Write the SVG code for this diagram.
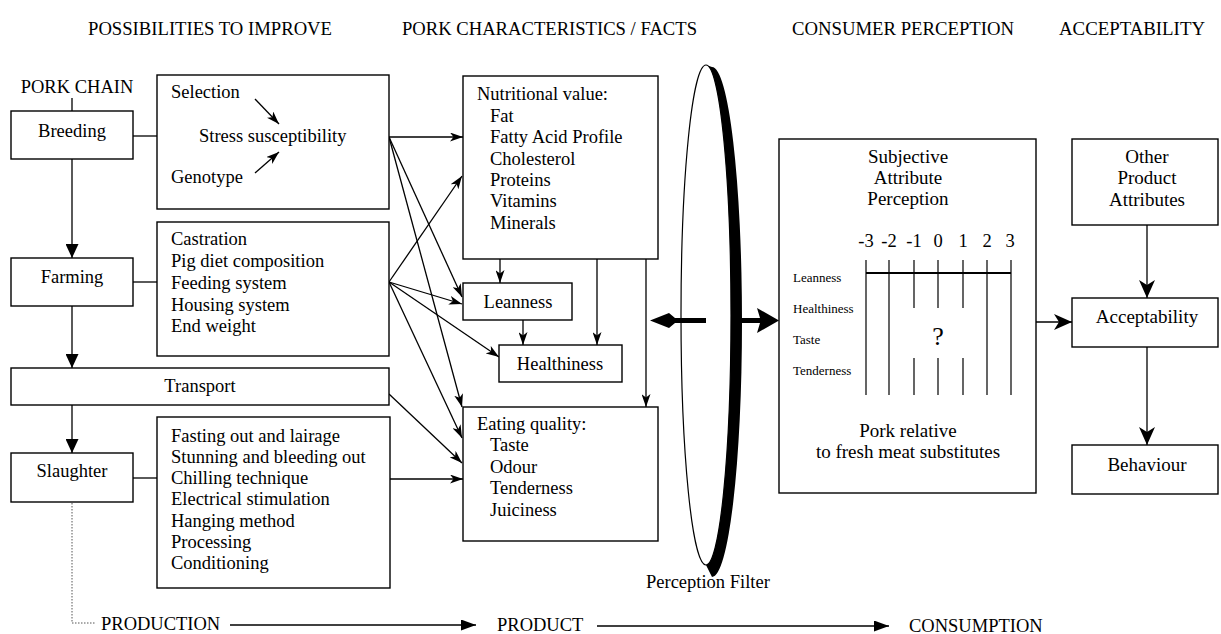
<svg xmlns="http://www.w3.org/2000/svg" width="1221" height="634" viewBox="0 0 1221 634">
<defs>
<style>
text{font-family:"Liberation Serif","Times New Roman",serif;fill:#000}
.t{font-size:18.5px}
.h{font-size:19px}
.s{font-size:13px}
.c{text-anchor:middle}
.box{fill:#fff;stroke:#000;stroke-width:1.4}
.ln{fill:none;stroke:#000;stroke-width:1.3}
.a{marker-end:url(#ma)}
.tr{marker-end:url(#mt)}
.bt{marker-end:url(#mb)}
.bg{marker-end:url(#mg)}
.dot{fill:none;stroke:#555;stroke-width:1;stroke-dasharray:1.5 1.5}
.sc{stroke:#000;stroke-width:1.2}
</style>
<marker id="ma" markerUnits="userSpaceOnUse" markerWidth="13" markerHeight="9" refX="13" refY="4.5" orient="auto"><path d="M0,0 L13,4.5 L0,9 L3.5,4.5 Z" fill="#000"/></marker>
<marker id="mt" markerUnits="userSpaceOnUse" markerWidth="14" markerHeight="13" refX="14" refY="6.5" orient="auto"><path d="M0,0 L14,6.5 L0,13 Z" fill="#000"/></marker>
<marker id="mb" markerUnits="userSpaceOnUse" markerWidth="15" markerHeight="11" refX="15" refY="5.5" orient="auto"><path d="M0,0 L15,5.5 L0,11 Z" fill="#000"/></marker>
<marker id="mg" markerUnits="userSpaceOnUse" markerWidth="18" markerHeight="16" refX="18" refY="8" orient="auto"><path d="M0,0 L18,8 L0,16 L5,8 Z" fill="#000"/></marker>
</defs>
<rect width="1221" height="634" fill="#fff"/>

<g id="headers">
<text class="h" x="88" y="35" textLength="244" lengthAdjust="spacingAndGlyphs">POSSIBILITIES TO IMPROVE</text>
<text class="h" x="402" y="35" textLength="295" lengthAdjust="spacingAndGlyphs">PORK CHARACTERISTICS / FACTS</text>
<text class="h" x="792" y="35" textLength="222" lengthAdjust="spacingAndGlyphs">CONSUMER PERCEPTION</text>
<text class="h" x="1059" y="35" textLength="146" lengthAdjust="spacingAndGlyphs">ACCEPTABILITY</text>
</g>

<g id="connectors">
<path class="ln" d="M72,98 L72,111"/>
<path class="ln" d="M133,136 L157,136"/>
<path class="ln" d="M133,282 L157,282"/>
<path class="ln" d="M133,478 L157,478"/>
<path class="ln tr" d="M72,159 L72,258"/>
<path class="ln tr" d="M72,306 L72,368"/>
<path class="ln tr" d="M72,405 L72,453"/>
<path class="ln a" d="M389,137 L463,137"/>
<path class="ln a" d="M389,137 L462,297"/>
<path class="ln a" d="M389,137 L462,407"/>
<path class="ln a" d="M389,282 L462,176"/>
<path class="ln a" d="M389,282 L462,304"/>
<path class="ln a" d="M389,282 L499,357"/>
<path class="ln a" d="M389,282 L462,438"/>
<path class="ln a" d="M389,394 L462,463"/>
<path class="ln a" d="M389,479 L463,479"/>
<path class="ln a" d="M500,259 L500,283"/>
<path class="ln a" d="M523,320 L523,345"/>
<path class="ln a" d="M597,259 L597,345"/>
<path class="ln a" d="M646,259 L646,407"/>
<path class="ln bg" d="M1036,322 L1072,322"/>
<path class="ln bg" d="M1147,225 L1147,298"/>
<path class="ln bg" d="M1147,347 L1147,445"/>
<path class="dot" d="M72,503 L72,623 L95,623"/>
<path class="ln bt" d="M230,625 L476,625"/>
<path class="ln bt" d="M597,626 L889,626"/>
<polygon points="650,320.5 669,313 675,318 706,318 706,323 675,323 669,328" fill="#000"/>
<polygon points="741,318 760,318 757,308 779,320.5 757,333 760,323 741,323" fill="#000"/>
</g>

<g id="pork-chain">
<text class="t c" x="77" y="93">PORK CHAIN</text>
</g>

<g id="breeding">
<rect class="box" x="11" y="111" width="122" height="48"/>
<text class="t c" x="72" y="137">Breeding</text>
</g>
<g id="farming">
<rect class="box" x="11" y="258" width="122" height="48"/>
<text class="t c" x="72" y="283">Farming</text>
</g>
<g id="transport">
<rect class="box" x="11" y="368" width="378" height="37"/>
<text class="t c" x="200" y="392">Transport</text>
</g>
<g id="slaughter">
<rect class="box" x="11" y="453" width="122" height="49"/>
<text class="t c" x="72" y="477">Slaughter</text>
</g>

<g id="breeding-options">
<rect class="box" x="157" y="75" width="232" height="134"/>
<text class="t" x="171" y="98">Selection</text>
<text class="t" x="199" y="142">Stress susceptibility</text>
<text class="t" x="171" y="183">Genotype</text>
<path class="ln a" d="M255,99 L279,124"/>
<path class="ln a" d="M255,173 L279,152"/>
</g>
<g id="farming-options">
<rect class="box" x="157" y="222" width="232" height="134"/>
<text class="t" x="171" y="245">Castration</text>
<text class="t" x="171" y="267">Pig diet composition</text>
<text class="t" x="171" y="289">Feeding system</text>
<text class="t" x="171" y="311">Housing system</text>
<text class="t" x="171" y="332">End weight</text>
</g>
<g id="slaughter-options">
<rect class="box" x="157" y="417" width="233" height="171"/>
<text class="t" x="171" y="442">Fasting out and lairage</text>
<text class="t" x="171" y="463">Stunning and bleeding out</text>
<text class="t" x="171" y="484">Chilling technique</text>
<text class="t" x="171" y="505">Electrical stimulation</text>
<text class="t" x="171" y="527">Hanging method</text>
<text class="t" x="171" y="548">Processing</text>
<text class="t" x="171" y="569">Conditioning</text>
</g>

<g id="nutritional-value">
<rect class="box" x="463" y="76" width="195" height="183"/>
<text class="t" x="477" y="100">Nutritional value:</text>
<text class="t" x="490" y="122">Fat</text>
<text class="t" x="490" y="143">Fatty Acid Profile</text>
<text class="t" x="490" y="165">Cholesterol</text>
<text class="t" x="490" y="186">Proteins</text>
<text class="t" x="490" y="207">Vitamins</text>
<text class="t" x="490" y="229">Minerals</text>
</g>
<g id="leanness">
<rect class="box" x="463" y="283" width="109" height="37"/>
<text class="t c" x="518" y="308">Leanness</text>
</g>
<g id="healthiness">
<rect class="box" x="499" y="345" width="123" height="37"/>
<text class="t c" x="560" y="370">Healthiness</text>
</g>
<g id="eating-quality">
<rect class="box" x="463" y="407" width="195" height="134"/>
<text class="t" x="477" y="430">Eating quality:</text>
<text class="t" x="490" y="451">Taste</text>
<text class="t" x="490" y="473">Odour</text>
<text class="t" x="490" y="494">Tenderness</text>
<text class="t" x="490" y="516">Juiciness</text>
</g>

<g id="perception-filter">
<ellipse cx="706" cy="315" rx="25" ry="250" fill="none" stroke="#000" stroke-width="1.2"/>
<path d="M712,67 A30,255 0 0 1 712,577 L706,565 A25,250 0 0 0 706,65 Z" fill="#000"/>
<text class="t" x="646" y="588">Perception Filter</text>
</g>

<g id="subjective-perception">
<rect class="box" x="779" y="139" width="257" height="354"/>
<text class="h c" x="908" y="163">Subjective</text>
<text class="h c" x="908" y="184">Attribute</text>
<text class="h c" x="908" y="205">Perception</text>
<text class="t c" x="866" y="247">-3</text>
<text class="t c" x="889" y="247">-2</text>
<text class="t c" x="914" y="247">-1</text>
<text class="t c" x="938" y="247">0</text>
<text class="t c" x="963" y="247">1</text>
<text class="t c" x="987" y="247">2</text>
<text class="t c" x="1010" y="247">3</text>
<path class="sc" d="M866,260 V395 M889,260 V395 M914,260 V308 M914,358 V395 M938,260 V308 M938,358 V395 M963,260 V308 M963,358 V395 M987,260 V395 M1011,260 V395"/>
<path d="M866,273 H1011" stroke="#000" stroke-width="2"/>
<text class="s" x="793" y="282">Leanness</text>
<text class="s" x="793" y="313">Healthiness</text>
<text class="s" x="793" y="344">Taste</text>
<text class="s" x="793" y="375">Tenderness</text>
<text class="c" x="938" y="345" style="font-size:26px">?</text>
<text class="h c" x="908" y="437">Pork relative</text>
<text class="h c" x="908" y="458">to fresh meat substitutes</text>
</g>

<g id="other-attributes">
<rect class="box" x="1072" y="139" width="146" height="86"/>
<text class="h c" x="1147" y="163">Other</text>
<text class="h c" x="1147" y="184">Product</text>
<text class="h c" x="1147" y="206">Attributes</text>
</g>
<g id="acceptability">
<rect class="box" x="1072" y="298" width="146" height="49"/>
<text class="h c" x="1147" y="323">Acceptability</text>
</g>
<g id="behaviour">
<rect class="box" x="1072" y="445" width="146" height="49"/>
<text class="h c" x="1147" y="471">Behaviour</text>
</g>

<g id="stages">
<text class="t" x="101" y="630">PRODUCTION</text>
<text class="t" x="497" y="631">PRODUCT</text>
<text class="t" x="909" y="632">CONSUMPTION</text>
</g>
</svg>
